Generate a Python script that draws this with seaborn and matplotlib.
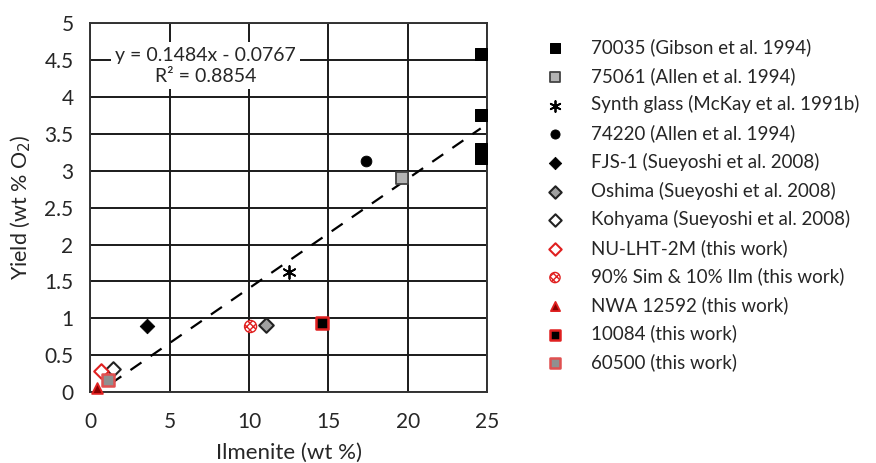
import numpy as np
import pandas as pd
import seaborn as sns
import matplotlib.pyplot as plt

# data
labels = ["70035 (Gibson et al. 1994)", "75061 (Allen et al. 1994)",
          "Synth glass (McKay et al. 1991b)", "74220 (Allen et al. 1994)",
          "FJS-1 (Sueyoshi et al. 2008)", "Oshima (Sueyoshi et al. 2008)",
          "Kohyama (Sueyoshi et al. 2008)", "NU-LHT-2M (this work)",
          "90% Sim & 10% Ilm (this work)", "NWA 12592 (this work)",
          "10084 (this work)", "60500 (this work)"]
ilmenite = [[24.6, 24.6, 24.6, 24.6], [19.65], [12.55], [17.4], [3.6], [11.05],
            [1.45], [0.7], [10.1], [0.4], [14.6], [1.15]]
yield_o2 = [[4.58, 3.75, 3.29, 3.17], [2.9], [1.63], [3.13], [0.89], [0.91],
            [0.32], [0.29], [0.89], [0.06], [0.94], [0.16]]
slope, intercept = 0.1484, -0.0767
fit_x = [0, 24.6]

styles = [
    dict(marker="s", color="black", edgecolor="black", s=80),
    dict(marker="s", color="#b4b4b4", edgecolor="#444444", s=75, linewidth=1.3),
    dict(marker=(6, 2, 0), color="black", s=85, linewidth=1.3),
    dict(marker="o", color="black", edgecolor="black", s=60),
    dict(marker="D", color="black", edgecolor="black", s=55),
    dict(marker="D", color="#a0a0a0", edgecolor="#222222", s=55, linewidth=1.5),
    dict(marker="D", color="white", edgecolor="#222222", s=55, linewidth=1.5),
    dict(marker="D", color="white", edgecolor="#e02020", s=55, linewidth=1.5),
    dict(marker="o", color="white", edgecolor="#e02020", s=75, linewidth=1.0, hatch="xxxxx"),
    dict(marker="^", color="#8b0000", edgecolor="#e02020", s=60, linewidth=1.3),
    dict(marker="s", color="black", edgecolor="#e02020", s=75, linewidth=1.8),
    dict(marker="s", color="#909090", edgecolor="#e05050", s=75, linewidth=1.8),
]

sns.set_style("white")
plt.rcParams["font.family"] = ["Lato", "DejaVu Sans"]
plt.rcParams["hatch.color"] = "#e02020"

fig = plt.figure(figsize=(8.76, 4.63), dpi=100)
ax = fig.add_axes([0.103, 0.153, 0.453, 0.797])

# trend line
fit_y = [slope * v + intercept for v in fit_x]
sns.lineplot(x=fit_x, y=fit_y, ax=ax, color="black", linestyle=(0, (6, 5)),
             linewidth=1.6, zorder=2)

handles = []
for lab, xs, ys, st in zip(labels, ilmenite, yield_o2, styles):
    st = dict(st)
    hatch = st.pop("hatch", None)
    df = pd.DataFrame({"x": xs, "y": ys})
    n_before = len(ax.collections)
    sns.scatterplot(data=df, x="x", y="y", ax=ax, label=lab, zorder=3,
                    clip_on=False, **st)
    coll = ax.collections[n_before]
    if hatch:
        coll.set_hatch(hatch)
    handles.append(coll)

ax.set_xlim(0, 25)
ax.set_ylim(0, 5)
ax.set_xticks(np.arange(0, 26, 5))
ax.set_yticks(np.arange(0, 5.01, 0.5))
ax.set_yticklabels(["0", "0.5", "1", "1.5", "2", "2.5", "3", "3.5", "4", "4.5", "5"])
ax.grid(True, color="#1a1a1a", linewidth=1.4)
ax.set_axisbelow(True)
for sp in ax.spines.values():
    sp.set_color("#333333")
    sp.set_linewidth(1.4)
ax.tick_params(axis="y", labelsize=15, length=0, pad=12)
ax.tick_params(axis="x", labelsize=15, length=0, pad=14)

ax.set_xlabel("Ilmenite (wt %)", fontsize=16, labelpad=8)
ax.set_ylabel("Yield (wt % O$_2$)", fontsize=15.5, labelpad=8)

ax.text(7.25, 4.42, "y = 0.1484x - 0.0767\nR² = 0.8854", ha="center", va="center",
        fontsize=14, linespacing=1.35, zorder=4,
        bbox=dict(facecolor="white", edgecolor="none", pad=3))

ax.legend(handles=handles, labels=labels, loc="upper left",
          bbox_to_anchor=(1.105, 1.005), frameon=False, fontsize=13.5,
          labelspacing=0.57, handlelength=1.0, handletextpad=1.4,
          markerscale=0.85)

fig.savefig("out.png", dpi=100)
